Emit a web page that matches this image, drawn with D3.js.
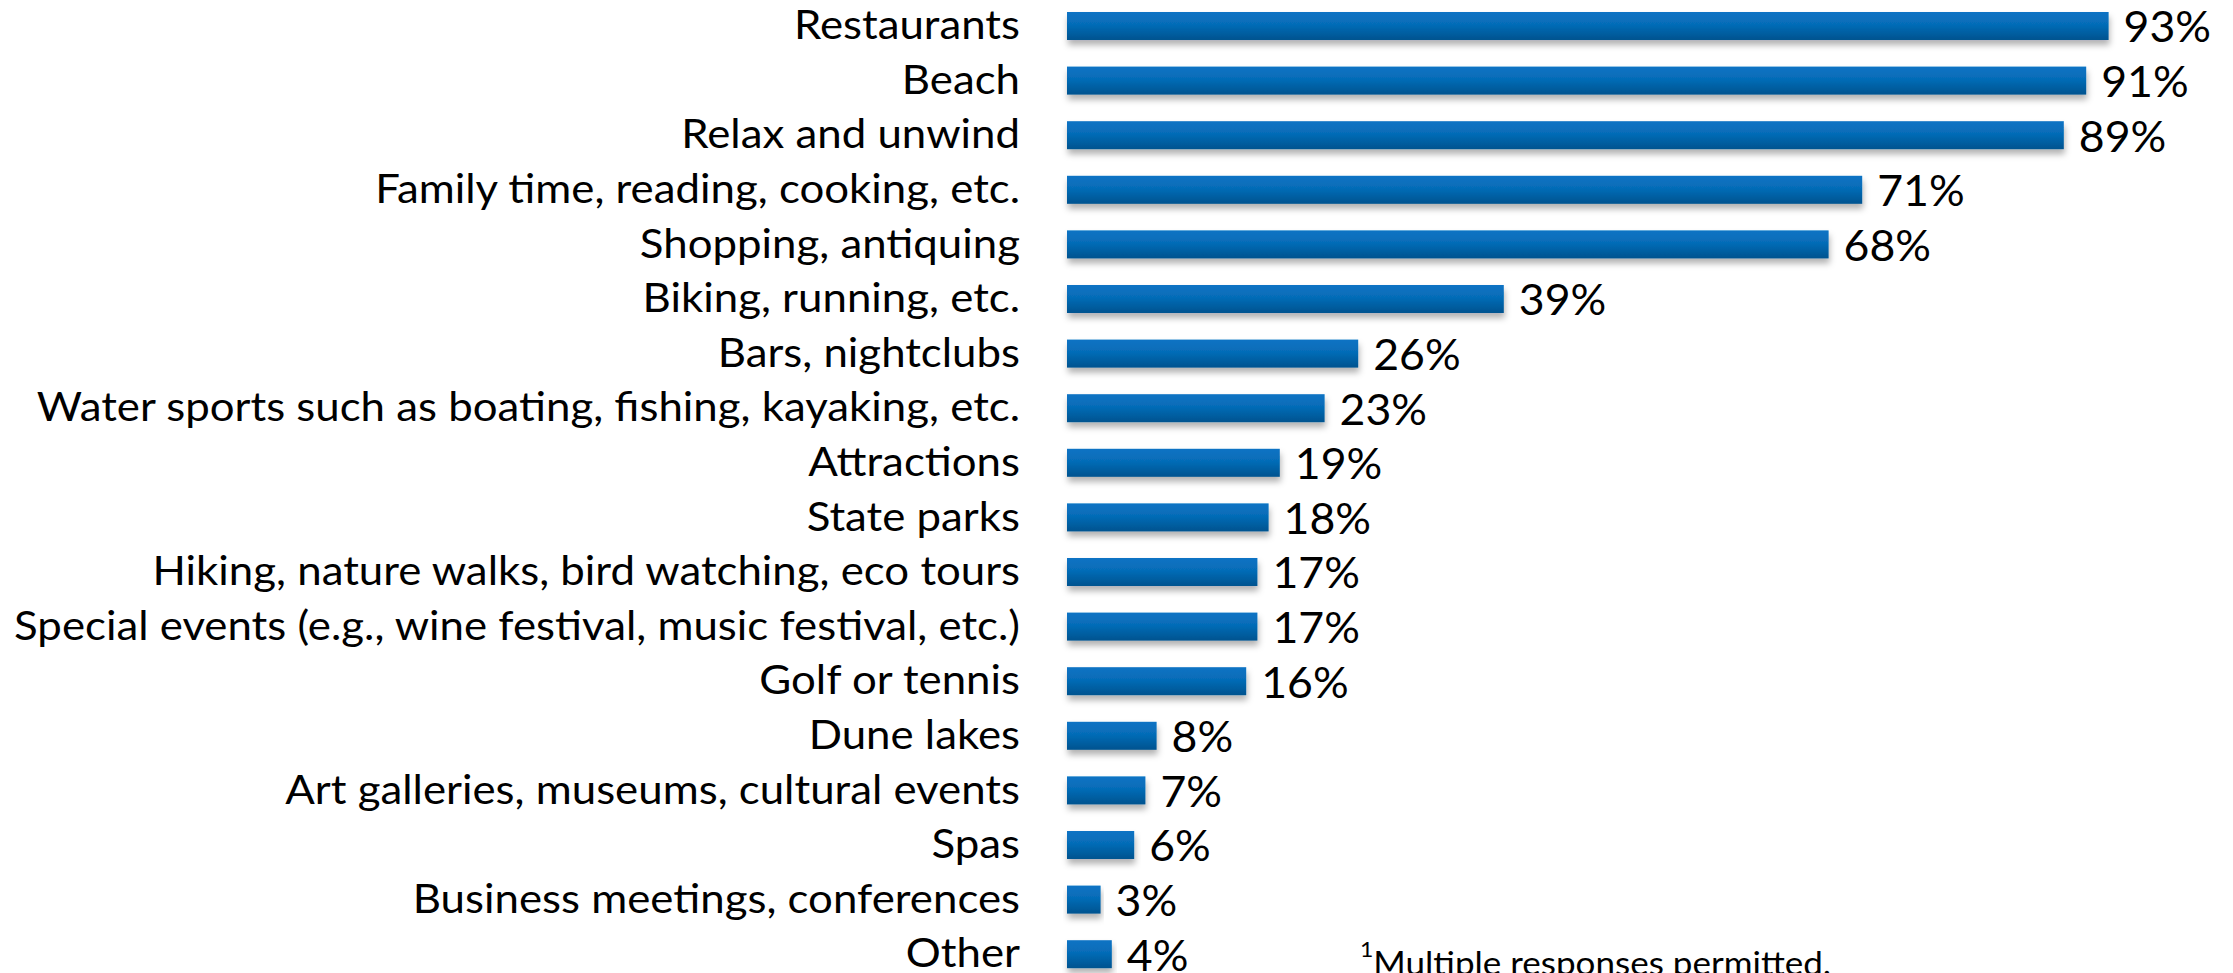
<!DOCTYPE html>
<html>
<head>
<meta charset="utf-8">
<script src="https://cdn.jsdelivr.net/npm/d3@7"></script>
<style>
  html, body { margin: 0; padding: 0; background: #fff; overflow: hidden; }
  text { font-family: Lato, "Open Sans", sans-serif; fill: #000; }
</style>
</head>
<body>
<div id="viz"></div>
<script>
// activities and share of respondents (%)
let categories = ['Restaurants', 'Beach', 'Relax and unwind', 'Family time, reading, cooking, etc.',
    'Shopping, antiquing', 'Biking, running, etc.', 'Bars, nightclubs',
    'Water sports such as boating, fishing, kayaking, etc.', 'Attractions', 'State parks',
    'Hiking, nature walks, bird watching, eco tours', 'Special events (e.g., wine festival, music festival, etc.)',
    'Golf or tennis', 'Dune lakes', 'Art galleries, museums, cultural events', 'Spas',
    'Business meetings, conferences', 'Other']
let values = [93, 91, 89, 71, 68, 39, 26, 23, 19, 18, 17, 17, 16, 8, 7, 6, 3, 4]
let footnote = 'Multiple responses permitted.'

const width = 2233, height = 973
const barLeft = 1067, labelRight = 1020

const svg = d3.select('#viz').append('svg')
    .attr('width', width)
    .attr('height', height)

const defs = svg.append('defs')
const grad = defs.append('linearGradient')
    .attr('id', 'barGrad')
    .attr('x1', 0).attr('y1', 0).attr('x2', 0).attr('y2', 1)
grad.append('stop').attr('offset', '0%').attr('stop-color', '#0a73c4')
grad.append('stop').attr('offset', '45%').attr('stop-color', '#066cb7')
grad.append('stop').attr('offset', '100%').attr('stop-color', '#03538f')

const shadow = defs.append('filter')
    .attr('id', 'shadow')
    .attr('x', '-10%').attr('y', '-20%').attr('width', '120%').attr('height', '180%')
shadow.append('feDropShadow')
    .attr('dx', 1).attr('dy', 5).attr('stdDeviation', 3)
    .attr('flood-color', '#000').attr('flood-opacity', 0.3)

const y = d3.scaleBand()
    .domain(categories)
    .range([-1.3, 981.5])
    .paddingInner(0.487)
    .paddingOuter(0.2435)

const x = d3.scaleLinear()
    .domain([0, 100])
    .range([barLeft, barLeft + 1120])

const rows = categories.map((c, i) => ({name: c, value: values[i]}))

// bars
svg.append('g')
    .selectAll('rect')
    .data(rows)
    .join('rect')
    .attr('x', x(0))
    .attr('y', d => y(d.name))
    .attr('width', d => x(d.value) - x(0))
    .attr('height', y.bandwidth())
    .attr('fill', 'url(#barGrad)')
    .attr('filter', 'url(#shadow)')

// category labels
const fontSize = 40
const labels = svg.append('g')
    .selectAll('text')
    .data(rows)
    .join('text')
    .attr('text-anchor', 'end')
    .attr('dominant-baseline', 'central')
    .style('font-size', fontSize + 'px')
    .text(d => d.name)

// squeeze horizontally so the longest label fits like the narrow original font
let maxW = 0
labels.each(function () { maxW = Math.max(maxW, this.getComputedTextLength()) })
const sx = 1006 / maxW
labels.attr('transform', d => 'translate(' + labelRight + ',' + (y(d.name) + y.bandwidth() / 2 - 2) + ') scale(' + sx + ',1)')

// value labels
svg.append('g')
    .selectAll('text')
    .data(rows)
    .join('text')
    .attr('dominant-baseline', 'central')
    .style('font-size', '42px')
    .attr('transform', d => 'translate(' + (x(d.value) + 15) + ',' + (y(d.name) + y.bandwidth() / 2) + ') scale(' + (sx * 0.97) + ',1)')
    .text(d => d.value + '%')

// footnote
const fn = svg.append('text')
    .attr('transform', 'translate(1360,969) scale(' + sx + ',1)')
    .style('font-size', '32px')
fn.append('tspan')
    .attr('dy', '-0.55em')
    .style('font-size', '21px')
    .text('1')
fn.append('tspan')
    .attr('dy', '0.55em')
    .text(footnote)
</script>
</body>
</html>
